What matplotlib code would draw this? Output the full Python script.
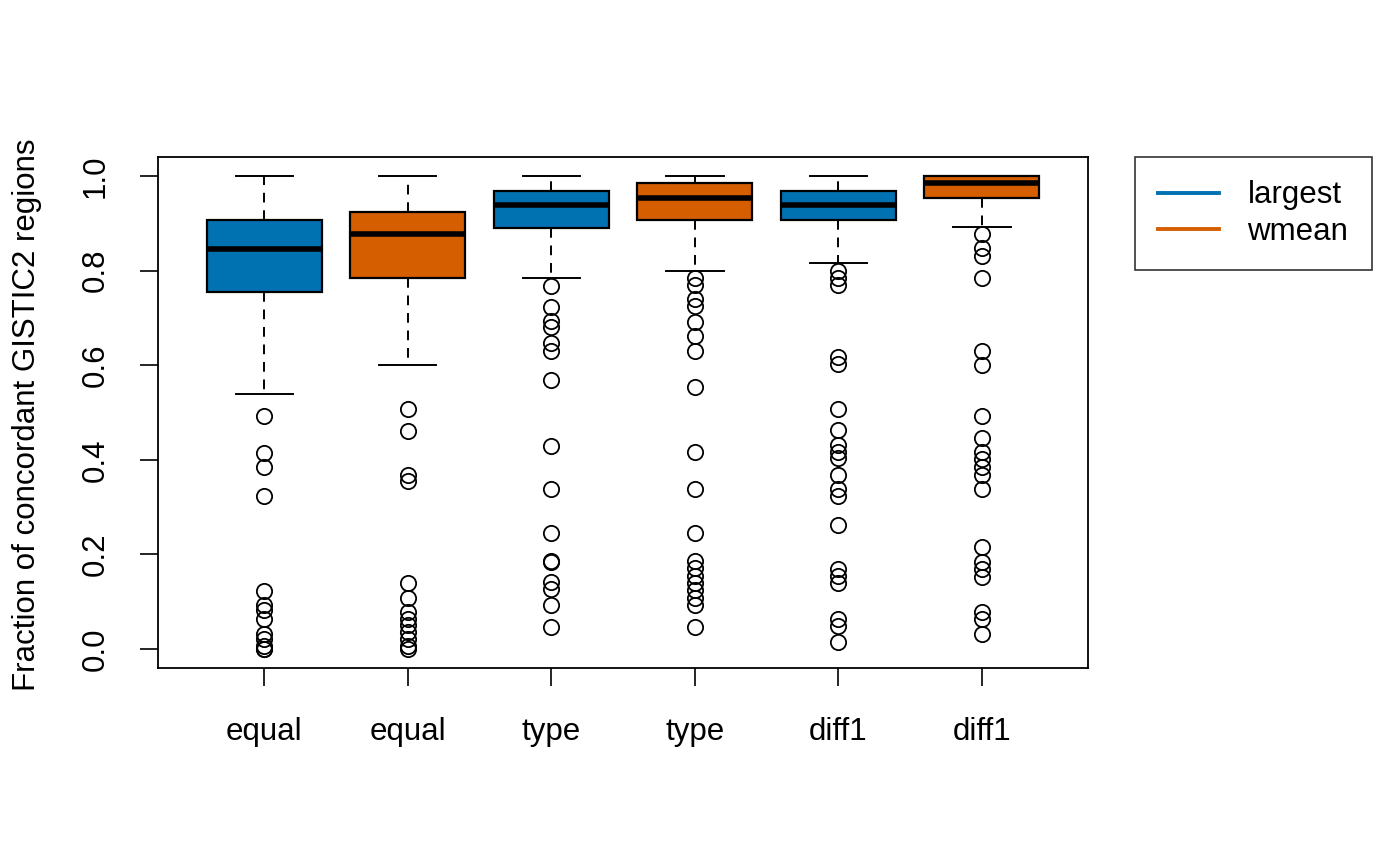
import numpy as np
import matplotlib
matplotlib.use("Agg")
import matplotlib.pyplot as plt
from matplotlib.lines import Line2D

plt.rcParams['font.family'] = ['Liberation Sans', 'DejaVu Sans']

# groups, left to right
labels = ["equal", "equal", "type", "type", "diff1", "diff1"]
methods = ["largest", "wmean"]
colors = ["#0072B2", "#D55E00"]

# box stats
whislo = [0.539, 0.601, 0.784, 0.800, 0.815, 0.892]
q1 = [0.754, 0.784, 0.891, 0.907, 0.907, 0.953]
med = [0.846, 0.877, 0.939, 0.954, 0.939, 0.984]
q3 = [0.907, 0.923, 0.969, 0.984, 0.969, 1.000]
whishi = [1.0, 1.0, 1.0, 1.0, 1.0, 1.0]

fliers = [
    [0.492, 0.415, 0.385, 0.323, 0.123, 0.093, 0.082, 0.064, 0.032, 0.021,
     0.007, 0.0, 0.0],
    [0.507, 0.461, 0.369, 0.356, 0.139, 0.108, 0.078, 0.064, 0.050, 0.036,
     0.021, 0.007, 0.0],
    [0.768, 0.723, 0.693, 0.681, 0.646, 0.631, 0.568, 0.430, 0.339, 0.246,
     0.187, 0.184, 0.141, 0.127, 0.093, 0.046],
    [0.784, 0.770, 0.740, 0.726, 0.691, 0.661, 0.631, 0.554, 0.416, 0.339,
     0.246, 0.187, 0.171, 0.155, 0.139, 0.125, 0.108, 0.093, 0.046],
    [0.800, 0.785, 0.770, 0.617, 0.602, 0.507, 0.462, 0.431, 0.417, 0.403,
     0.369, 0.339, 0.324, 0.262, 0.169, 0.155, 0.140, 0.063, 0.048, 0.016],
    [0.877, 0.847, 0.830, 0.784, 0.631, 0.600, 0.492, 0.447, 0.417, 0.401,
     0.385, 0.369, 0.339, 0.215, 0.184, 0.169, 0.153, 0.078, 0.063, 0.031],
]

stats = []
for i in range(len(labels)):
    stats.append(dict(whislo=whislo[i], q1=q1[i], med=med[i], q3=q3[i],
                      whishi=whishi[i], fliers=fliers[i]))

fig = plt.figure(figsize=(14, 8.65), dpi=100)
ax = fig.add_axes([0.1129, 0.2277, 0.6643, 0.5908])

pos = np.arange(1, len(labels) + 1)
bp = ax.bxp(stats, positions=pos, widths=0.8, patch_artist=True,
            showfliers=True,
            boxprops=dict(linewidth=1.6, edgecolor="black"),
            medianprops=dict(color="black", linewidth=4.0, solid_capstyle="butt"),
            whiskerprops=dict(color="black", linewidth=1.4, linestyle=(0, (5, 4))),
            capprops=dict(color="black", linewidth=1.4),
            capwidths=0.4,
            flierprops=dict(marker="o", markerfacecolor="none",
                            markeredgecolor="black", markersize=11,
                            markeredgewidth=1.3, linestyle="none"))
for i, b in enumerate(bp["boxes"]):
    b.set_facecolor(colors[i % 2])

fs = 22.5
ax.set_xlim(0.26, 6.74)
ax.set_ylim(-0.04, 1.04)
ax.set_xticks(pos)
ax.set_xticklabels(labels)
ax.set_yticks([0.0, 0.2, 0.4, 0.6, 0.8, 1.0])
ax.set_yticklabels(["0.0", "0.2", "0.4", "0.6", "0.8", "1.0"], rotation=90, va="center")
ax.tick_params(axis="both", labelsize=fs, length=13, width=1.2, direction="out")
ax.tick_params(axis="x", pad=22)
ax.tick_params(axis="y", pad=21)
for s in ax.spines.values():
    s.set_linewidth(1.3)
ax.set_ylabel("Fraction of concordant GISTIC2 regions", fontsize=fs)
ax.yaxis.set_label_coords(-0.125, 0.495)

handles = [Line2D([0], [0], color=c, linewidth=2.8) for c in colors]
leg = fig.legend(handles, methods, loc="upper left",
                 bbox_to_anchor=(1135 / 1400, 1 - 157 / 865),
                 fontsize=fs, frameon=True, fancybox=False, edgecolor="black",
                 handlelength=1.95, borderpad=0.75, labelspacing=0.2, handletextpad=0.9,
                 borderaxespad=0)
leg.get_frame().set_linewidth(1.2)

fig.savefig("out.png", dpi=100)
